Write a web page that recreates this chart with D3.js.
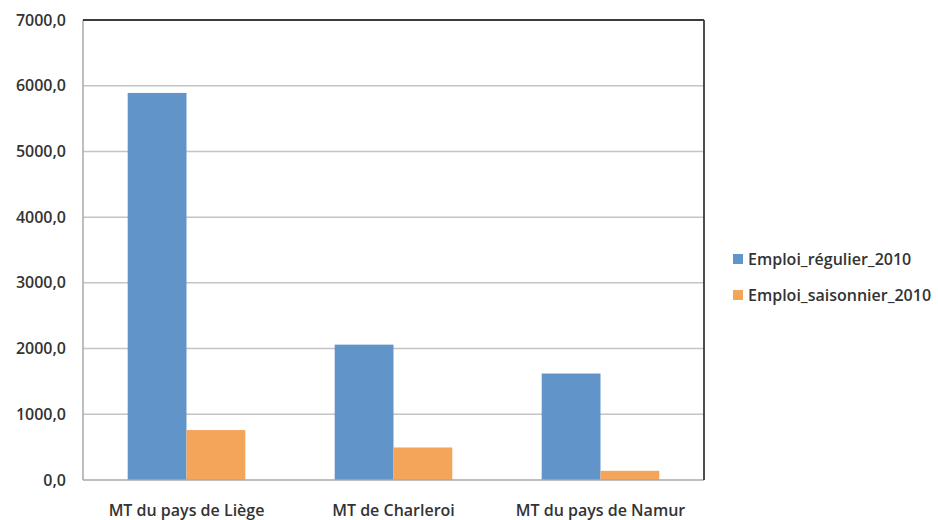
<!DOCTYPE html>
<html>
<head>
<meta charset="utf-8">
<script src="https://cdn.jsdelivr.net/npm/d3@7"></script>
<style>
  html, body { margin: 0; padding: 0; background: #fff; }
  svg { display: block; }
  text { font-family: "Open Sans", "Noto Sans", sans-serif; fill: #333; }
</style>
</head>
<body>
<svg id="chart" width="938" height="520"></svg>
<script>
// Employment by tourist board, 2010
const categories = ["MT du pays de Liège", "MT de Charleroi", "MT du pays de Namur"];
const seriesNames = ["Emploi_régulier_2010", "Emploi_saisonnier_2010"];
const regulier = [5890, 2060, 1620];
const saisonnier = [760, 495, 140];
const yTicks = [0, 1000, 2000, 3000, 4000, 5000, 6000, 7000];
const colors = ["#6195c9", "#f4a55a"];

const svg = d3.select("#chart");
const plot = { left: 83, top: 20, right: 704, bottom: 480 };
const fontSize = 16;

const x = d3.scaleBand().domain(categories).range([plot.left, plot.right]).paddingInner(0).paddingOuter(0);
const xSeries = d3.scaleBand().domain(seriesNames).range([0, x.bandwidth()]).paddingInner(0).paddingOuter(0.76);
const y = d3.scaleLinear().domain([0, 7000]).range([plot.bottom, plot.top]);

const fmt = d => d3.format(".1f")(d).replace(".", ",");

// horizontal gridlines
svg.append("g")
  .selectAll("line")
  .data(yTicks.filter(d => d > 0 && d < 7000))
  .join("line")
  .attr("x1", plot.left).attr("x2", plot.right)
  .attr("y1", d => y(d)).attr("y2", d => y(d))
  .attr("stroke", "#c4c4c4").attr("stroke-width", 1.5);

// bars
const rows = categories.map((c, i) => ({ cat: c, vals: [regulier[i], saisonnier[i]] }));
const groups = svg.append("g").selectAll("g")
  .data(rows).join("g")
  .attr("transform", d => `translate(${x(d.cat)},0)`);
groups.selectAll("rect")
  .data(d => d.vals.map((v, j) => ({ name: seriesNames[j], v, j })))
  .join("rect")
  .attr("x", d => xSeries(d.name))
  .attr("width", xSeries.bandwidth())
  .attr("y", d => y(d.v))
  .attr("height", d => y(0) - y(d.v))
  .attr("fill", d => colors[d.j]);

// frame: light left/bottom axis lines, dark top/right border
svg.append("line").attr("x1", plot.left).attr("x2", plot.left).attr("y1", plot.top).attr("y2", plot.bottom)
  .attr("stroke", "#a8a8a8").attr("stroke-width", 1.5);
svg.append("line").attr("x1", plot.left).attr("x2", plot.right).attr("y1", plot.bottom).attr("y2", plot.bottom)
  .attr("stroke", "#a8a8a8").attr("stroke-width", 1.5);
svg.append("line").attr("x1", plot.left).attr("x2", plot.right).attr("y1", plot.top).attr("y2", plot.top)
  .attr("stroke", "#3e3a3a").attr("stroke-width", 1.8);
svg.append("line").attr("x1", plot.right).attr("x2", plot.right).attr("y1", plot.top).attr("y2", plot.bottom)
  .attr("stroke", "#3e3a3a").attr("stroke-width", 1.8);

// y axis labels
const yAxis = d3.axisLeft(y).tickValues(yTicks).tickFormat(fmt).tickSize(0).tickPadding(17);
const gy = svg.append("g").attr("transform", `translate(${plot.left},0)`).call(yAxis);
gy.select(".domain").remove();
gy.selectAll("text")
  .attr("font-size", fontSize).attr("font-weight", 600)
  .attr("font-family", "'Open Sans', sans-serif").attr("fill", "#333")
  .attr("dy", "0.32em");

// x axis labels
const xAxis = d3.axisBottom(x).tickSize(0).tickPadding(25);
const gx = svg.append("g").attr("transform", `translate(0,${plot.bottom})`).call(xAxis);
gx.select(".domain").remove();
gx.selectAll("text")
  .attr("font-size", fontSize).attr("font-weight", 600)
  .attr("font-family", "'Open Sans', sans-serif").attr("fill", "#333");

// legend
const legend = svg.append("g").attr("transform", "translate(733,259)");
const items = legend.selectAll("g").data(seriesNames).join("g")
  .attr("transform", (d, i) => `translate(0,${i * 36})`);
items.append("rect").attr("x", 0).attr("y", -5).attr("width", 10).attr("height", 10)
  .attr("fill", (d, i) => colors[i]);
items.append("text").attr("x", 15).attr("y", 0).attr("dy", "0.35em")
  .attr("font-size", fontSize).attr("font-weight", 600)
  .text(d => d);
</script>
</body>
</html>
